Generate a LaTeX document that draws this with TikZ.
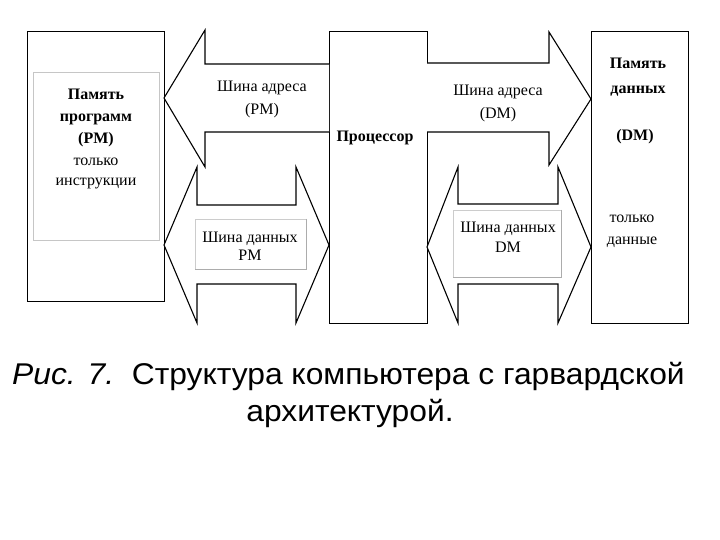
\documentclass[tikz,border=0pt]{standalone}
\usepackage{fontspec}
\setmainfont{Liberation Serif}
\newfontfamily\capfont[FakeStretch=1.06]{Liberation Sans}
\begin{document}
\begin{tikzpicture}[x=1pt,y=-1pt,
  blk/.style={draw=black,line width=1.2pt,fill=white},
  bus/.style={draw=black,line width=1.1pt,line join=miter},
  lblbox/.style={draw=gray!40,line width=0.8pt,fill=white},
  txt/.style={inner sep=0pt,align=center,font=\fontsize{16}{22}\selectfont},
  btxt/.style={txt,font=\fontsize{16}{22}\selectfont\bfseries},
  captxt/.style={inner sep=0pt,font=\capfont\fontsize{30}{36}\selectfont}]
\useasboundingbox (0,0) rectangle (720,540);
% main boxes
\node[blk,anchor=north west,minimum width=137pt,minimum height=270pt,inner sep=0pt] (pm) at (27,31) {};
\node[blk,anchor=north west,minimum width=98pt,minimum height=292pt,inner sep=0pt] (cpu) at (329,31) {};
\node[blk,anchor=north west,minimum width=97pt,minimum height=292pt,inner sep=0pt] (dm) at (591,31) {};
\node[draw=gray!45,line width=0.9pt,anchor=north west,minimum width=126pt,minimum height=168pt,inner sep=0pt] (pmin) at (33,72) {};
% address bus PM
\draw[bus,fill=white] (329,64) -- (205,64) -- (205,30) -- (164,98) -- (205,167) -- (205,132) -- (329,132);
% address bus DM
\draw[bus,fill=white] (427,63) -- (549,63) -- (549,32) -- (591,99) -- (549,165) -- (549,132) -- (427,132);
% data bus PM
\draw[bus,fill=white] (164,245) -- (197,167) -- (197,205) -- (296,205) -- (296,167) -- (329,245) -- (296,323) -- (296,284) -- (197,284) -- (197,323) -- cycle;
% data bus DM
\draw[bus,fill=white] (427,247) -- (458,167) -- (458,204) -- (558,204) -- (558,167) -- (591,247) -- (558,323) -- (558,284) -- (458,284) -- (458,323) -- cycle;
% label boxes
\node[lblbox,anchor=north west,minimum width=111pt,minimum height=50pt,inner sep=0pt] (pmdb) at (195,219) {};
\draw[gray!65,line width=0.9pt] (pmdb.north east) -- (pmdb.south east) -- (pmdb.south west);
\node[lblbox,anchor=north west,minimum width=108pt,minimum height=67pt,inner sep=0pt] (dmdb) at (453,210) {};
\draw[gray!65,line width=0.9pt] (dmdb.north east) -- (dmdb.south east) -- (dmdb.south west);
% texts
\node[btxt] (pmt1) at (96,117.5) {Память\\программ\\(PM)};
\node[txt,font=\fontsize{16}{20}\selectfont] (pmt2) at (96,173) {только\\инструкции};
\node[btxt] (cput) at (375,138) {Процессор};
\node[btxt,font=\fontsize{16}{25}\selectfont\bfseries] (dmt1) at (638,77.5) {Память\\данных};
\node[btxt] (dmt2) at (635,137) {(DM)};
\node[txt] (dmt3) at (632,231) {только\\данные};
\node[txt,font=\fontsize{16}{23}\selectfont] (abpm) at (262,99.5) {Шина адреса\\(PM)};
\node[txt,font=\fontsize{16}{23}\selectfont] (abdm) at (498,103.5) {Шина адреса\\(DM)};
\node[txt,font=\fontsize{16}{18}\selectfont] (dbpm) at (250,246) {Шина данных\\PM};
\node[txt,font=\fontsize{16}{20}\selectfont] (dbdm) at (508,237) {Шина данных\\DM};
% caption
\node[captxt,anchor=base west] (cap1) at (12,384) {\textit{Рис. 7.}\ \ Структура компьютера с гарвардской};
\node[captxt,anchor=base] (cap2) at (350,421) {архитектурой.};
\end{tikzpicture}
\end{document}
